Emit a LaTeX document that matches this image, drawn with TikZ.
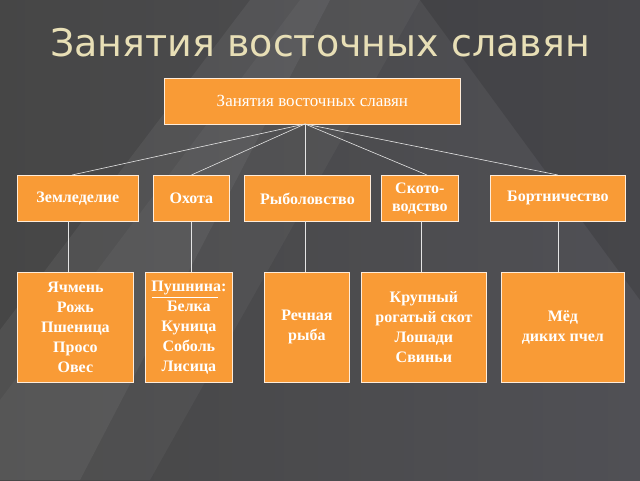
\documentclass[tikz,border=0pt]{standalone}
\usepackage{fontspec}
\setmainfont{Liberation Serif}
\newfontfamily\titlefont{DejaVu Sans}
\definecolor{boxorange}{HTML}{F99B36}
\definecolor{bg}{HTML}{505055}
\definecolor{titlecol}{HTML}{E8DFB6}
\begin{document}
\begin{tikzpicture}[x=1pt,y=-1pt,
  box/.style={draw=white!85!orange,line width=0.8pt,fill=boxorange,text=white,font=\bfseries\fontsize{16}{20}\selectfont,align=center,anchor=north west,inner sep=0pt},
  link/.style={draw=white!80!gray,line width=0.6pt}]
\useasboundingbox (0,0) rectangle (640,480);
\shade[left color=gray!55!black, right color=bg] (0,0) rectangle (640,480);
\fill[white,opacity=0.06] (0,330) -- (250,0) -- (330,0) -- (80,480) -- (0,480) -- cycle;
\fill[white,opacity=0.04] (0,400) -- (300,0) -- (420,0) -- (150,480) -- (0,480) -- cycle;
\fill[black,opacity=0.12] (640,0) -- (420,0) -- (640,300) -- cycle;
\node[text=titlecol,font=\titlefont\fontsize{38}{40}\selectfont] (title) at (320,43) {Занятия восточных славян};
\node[box,minimum width=296,minimum height=46,font=\fontsize{17}{20}\selectfont] (top) at (164,78) {Занятия восточных славян};
\node[box,minimum width=121,minimum height=46] (a) at (17,175) {Земледелие};
\node[box,minimum width=76,minimum height=46] (b) at (153,175) {Охота};
\node[box,minimum width=126,minimum height=46] (c) at (244,175) {Рыболовство};
\node[box,minimum width=77,minimum height=46,font=\bfseries\fontsize{16}{18}\selectfont] (d) at (381,175) {Ското-\\водство};
\node[box,minimum width=135,minimum height=46] (e) at (490,175) {Бортничество};
\node[box,minimum width=116,minimum height=110] (a2) at (17,272) {Ячмень\\Рожь\\Пшеница\\Просо\\Овес};
\node[box,minimum width=87,minimum height=110] (b2) at (145,272) {Пушнина:\\Белка\\Куница\\Соболь\\Лисица};
\node[box,minimum width=85,minimum height=110] (c2) at (264,272) {Речная\\рыба};
\node[box,minimum width=125,minimum height=110] (d2) at (361,272) {Крупный\\рогатый скот\\Лошади\\Свиньи};
\node[box,minimum width=123,minimum height=110] (e2) at (501,272) {Мёд\\диких пчел};
\coordinate (hub) at (305,124);
\coordinate (ain) at (72,175);
\coordinate (din) at (427,175);
\coordinate (aout) at (68,221);
\coordinate (aend) at (68,272);
\coordinate (dout) at (421,221);
\coordinate (dend) at (421,272);
\coordinate (cin) at (305,175);
\coordinate (cout) at (305,221);
\coordinate (cend) at (305,272);
\coordinate (ul1) at (152,297);
\coordinate (ul2) at (218,297);
\draw[white,line width=0.6pt] (ul1) -- (ul2);
\draw[link] (hub) -- (ain);
\draw[link] (hub) -- (b.north);
\draw[link] (hub) -- (cin);
\draw[link] (hub) -- (din);
\draw[link] (hub) -- (e.north);
\draw[link] (aout) -- (aend);
\draw[link] (b.south) -- (b.south |- b2.north);
\draw[link] (cout) -- (cend);
\draw[link] (dout) -- (dend);
\draw[link] (e.south) -- (e.south |- e2.north);
\end{tikzpicture}
\end{document}
